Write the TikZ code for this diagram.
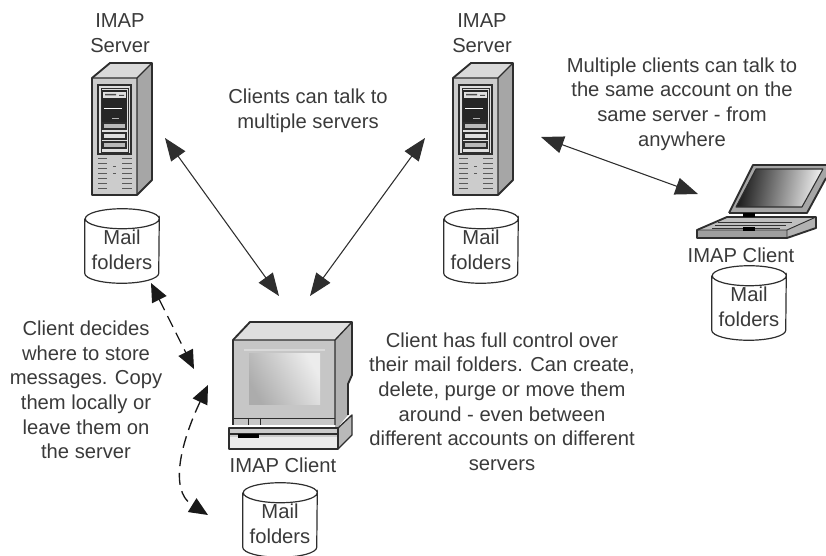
\documentclass[tikz,border=0pt]{standalone}
\usepackage{fontspec}
\setmainfont{Liberation Sans}
\usetikzlibrary{arrows.meta}
\definecolor{ink}{HTML}{3A3A3A}
\definecolor{edge}{HTML}{2E2E2E}
\newcommand\mailcyl[2]{%
  \node[foldertext] (#1) at #2 {};
  \path[cylface] ([yshift=-7.5pt]#1.north west) -- ([yshift=7.5pt]#1.south west)
     arc[start angle=180,end angle=0,x radius=37,y radius=10]
     -- ([yshift=-7.5pt]#1.north east)
     arc[start angle=0,end angle=180,x radius=37,y radius=10]
     arc[start angle=180,end angle=360,x radius=37,y radius=10];
  \node[foldertext] (#1text) at ([yshift=-2.6pt]#1.center) {Mail\\folders};
}
\tikzset{
  label text/.style={text=ink,font=\fontsize{15.15}{18.5}\selectfont,align=center,inner sep=0pt},
  foldertext/.style={shape=rectangle,minimum width=55.5pt,minimum height=55.5pt,inner sep=0pt,text=ink,align=center,
    font=\fontsize{15.15}{18.5}\selectfont},
  cylface/.style={draw=edge,line width=.9pt,fill=white},
  link/.style={draw=edge,line width=.8pt,{Triangle[length=17pt,width=13pt]}-{Triangle[length=17pt,width=13pt]}},
  dlink/.style={draw=black!90,line width=1pt,dash pattern=on 9pt off 5pt,{Triangle[length=14pt,width=12pt]}-{Triangle[length=14pt,width=12pt]}},
  device/.style={draw=edge,line width=1.4pt,line join=round},
  thin part/.style={draw=edge,line width=.5pt},
  pics/imapserver/.style={code={
    \fill[gray!30] (0,15) -- (18,0) -- (60,0) -- (45,15) -- cycle;
    \fill[gray!70] (45,15) -- (60,0) -- (60,117) -- (45,132) -- cycle;
    \fill[gray!40] (0,15) rectangle (45,132);
    \draw[device] (0,15) -- (18,0) -- (60,0) -- (60,117) -- (45,132) -- (0,132) -- cycle;
    \draw[device,line width=.8pt] (0,15) -- (45,15) -- (60,0) (45,15) -- (45,132);
    \draw[thin part,line width=1pt,fill=gray!25] (6,22) rectangle (39,91);
    \draw[thin part,line width=.7pt] (9,25) rectangle (36,89);
    \fill[black!85] (10,27) rectangle (35,60);
    \fill[gray!25] (11,29) rectangle (34,35);
    \fill[black!70] (13,31) rectangle (24,32.4) (27,32) rectangle (32,33);
    \fill[white] (12,45) rectangle (30,46.5);
    \fill[gray!60] (20,55) rectangle (27,56);
    \foreach \y/\c in {60/gray!55,70/gray!25,79/gray!55}
      \draw[thin part,line width=.8pt,fill=\c] (11,\y) rectangle (34,\y+6);
    \foreach \y in {95,100,105,110,115,120,125}{
      \draw[gray!70!black,line width=.6pt] (6,\y) -- (15,\y) (30,\y) -- (40,\y);
    }
    \foreach \y in {103,110}\draw[gray!70!black,line width=.5pt] (21,\y) -- (24,\y);
  }},
}
\begin{document}
\begin{tikzpicture}[x=.75pt,y=-.75pt]
\useasboundingbox (0,0) rectangle (826,556);

% servers
\pic at (92,63) {imapserver};
\pic at (453,63) {imapserver};

% monitor
\fill[gray!25] (233,340) -- (250,322) -- (352,322) -- (335,340) -- cycle;
\fill[gray!60] (335,340) -- (352,322) -- (352,375) -- (348,385) -- (348,415) -- (337,428) -- (335,428) -- cycle;
\fill[gray!45] (233,340) rectangle (335,425);
\draw[device] (233,425) -- (233,340) -- (250,322) -- (352,322) -- (352,375) -- (348,384) -- (348,415);
\draw[device,line width=1pt] (233,340) -- (335,340) -- (352,322) (335,340) -- (335,425);
\shade[left color=gray!15,right color=gray!65,shading angle=-60] (249,354) rectangle (320,405);
\draw[gray!30,line width=.8pt] (244,350) -- (325,350);
\draw[thin part] (233,418) -- (335,418) (248,418) -- (248,425) (260,418) -- (260,425);
\fill[gray!55] (338,428) -- (352,415) -- (352,435) -- (338,449) -- cycle;
\fill[gray!15] (229,437) rectangle (338,449);
\fill[gray!40] (229,428) rectangle (338,437);
\draw[device] (229,428) -- (338,428) -- (338,449) -- (229,449) -- cycle;
\draw[device,line width=1pt] (338,428) -- (352,415) -- (352,435) -- (338,449);
\draw[thin part,line width=.9pt] (229,434) -- (338,434);
\fill[black] (238,434) rectangle (259,438);

% laptop
\fill[gray!70] (729,213) -- (753,165) -- (826,165) -- (826,178) -- (807,213) -- cycle;
\shade[left color=gray!10,right color=black!90,shading angle=-100] (736,207) -- (756,169) -- (823,169) -- (802,207) -- cycle;
\draw[device] (729,213) -- (753,165) -- (826,165);
\draw[device,line width=.8pt] (736,207) -- (756,169) -- (823,169) -- (802,207) -- cycle;
\draw[device] (729,213) -- (807,213) -- (826,178);
\fill[gray!50] (697,230) -- (727,217) -- (816,217) -- (787,230) -- cycle;
\fill[gray!75] (697,230) rectangle (787,238);
\fill[gray!60] (787,230) -- (816,217) -- (816,228) -- (787,238) -- (787,230) -- cycle;
\draw[device] (697,230) -- (727,217) -- (816,217) -- (816,228) -- (787,238) -- (697,238) -- cycle;
\draw[device,line width=.7pt] (697,230) -- (787,230) -- (816,217) (787,230) -- (787,238);
\foreach \k in {0,1,2}\draw[black!80,line width=.5pt] (712+\k*3,228-\k*3) -- (780+\k*6,228-\k*3);
\fill[black] (743,227) rectangle (755,231);
\fill[black] (743,213) rectangle (755,217);

% cylinders
\mailcyl{cyl1}{(122,246)}
\mailcyl{cyl2}{(481,246)}
\mailcyl{cyl3}{(749,303)}
\mailcyl{cyl4}{(280,520)}

% labels
\node[label text] (srv1) at (120,33) {IMAP\\Server};
\node[label text] (srv2) at (482,33) {IMAP\\Server};
\node[label text] (note1) at (308,111) {Clients can talk to\\multiple servers};
\node[label text] (note2) at (682,104) {Multiple clients can talk to\\the same account on the\\same server - from\\anywhere};
\node[label text] (client3) at (741,255) {IMAP Client};
\node[label text] (client4) at (283,465) {IMAP Client};
\node[label text] (note3) at (86,390) {Client decides\\where to store\\messages. Copy\\them locally or\\leave them on\\the server};
\node[label text] (note4) at (502,401.5) {Client has full control over\\their mail folders. Can create,\\delete, purge or move them\\around - even between\\different accounts on different\\servers};

% connector ends
\coordinate (a1s) at (165,138);
\coordinate (a1c) at (279,296);
\coordinate (a2s) at (425,138);
\coordinate (a2c) at (310,296);
\coordinate (a3s) at (541,137);
\coordinate (a3c) at (698,194);
\coordinate (a4s) at (151,283);
\coordinate (a4c) at (194,369);
\coordinate (a5m) at (208,385);
\coordinate (a5f) at (208,515);

\path[link] (a1s) -- (a1c);
\path[link] (a2s) -- (a2c);
\path[link] (a3s) -- (a3c);
\path[dlink] (a4s) -- (a4c);
\path[dlink] (a5m) .. controls (182,440) and (168,490) .. (a5f);
\end{tikzpicture}
\end{document}
